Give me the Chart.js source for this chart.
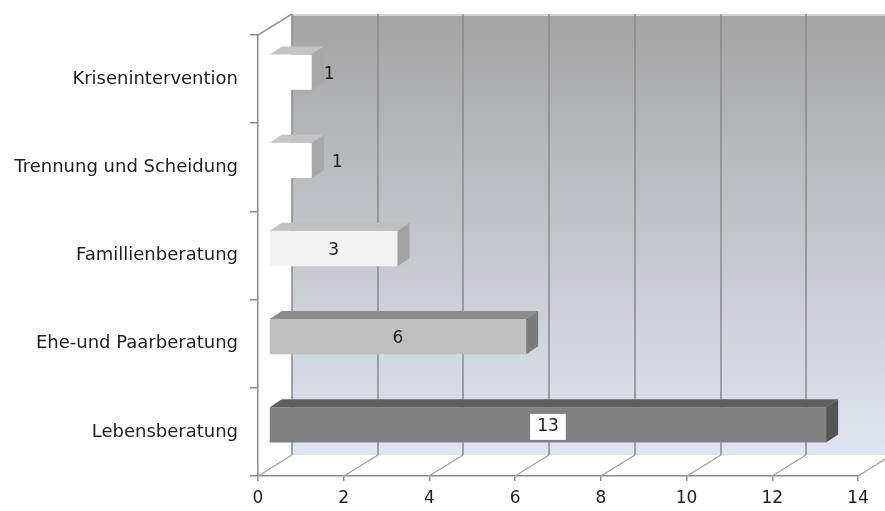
<!DOCTYPE html>
<html>
<head>
<meta charset="utf-8">
<script src="https://cdn.jsdelivr.net/npm/chart.js@4.4.1/dist/chart.umd.min.js"></script>
<style>
  html, body { margin: 0; padding: 0; background: #fff; }
  #chart { display: block; }
</style>
</head>
<body>
<canvas id="chart" width="885" height="511"></canvas>
<script>
// data
const categories = ['Krisenintervention', 'Trennung und Scheidung', 'Famillienberatung', 'Ehe-und Paarberatung', 'Lebensberatung'];
const counts = [1, 1, 3, 6, 13];
const xMin = 0, xMax = 14, xStep = 2;

// bar colours (front, top, side)
const frontColors = ['#ffffff', '#ffffff', '#f2f2f2', '#bfbfbf', '#808080'];
const topColors = ['#c4c4c4', '#c4c4c4', '#c0c0c0', '#8c8c8c', '#5f5f5f'];
const sideColors = ['#a8a8a8', '#a8a8a8', '#a3a3a3', '#7a7a7a', '#545454'];
const labelInside = [false, false, true, true, true];
const labelBox = [false, false, false, false, true];

// 3d offsets
const DEPTH = { x: 34, y: -21 };
const BAR_SHIFT = { x: 11, y: -7 };
const BAR_DEPTH = { x: 12, y: -8 };

const FONT = 'DejaVu Sans';
const TEXT = '#1e1e1e';

function line(ctx, x1, y1, x2, y2) {
  ctx.beginPath();
  ctx.moveTo(x1, y1);
  ctx.lineTo(x2, y2);
  ctx.stroke();
}

//Plugin that draws walls, floor and the 3d faces of the bars
const threeD = {
  id: 'threeD',
  beforeDatasetsDraw(chart) {
    const { ctx, chartArea: a } = chart;
    const xs = chart.scales.x;
    const wl = Math.round(xs.getPixelForValue(xMin)) + DEPTH.x;
    const top = a.top + DEPTH.y, bot = a.bottom + DEPTH.y;
    ctx.save();
    //back wall
    const g = ctx.createLinearGradient(0, top, 0, bot);
    g.addColorStop(0, '#a4a4a4');
    g.addColorStop(0.5, '#c3c5c9');
    g.addColorStop(1, '#dfe5f1');
    ctx.fillStyle = g;
    ctx.fillRect(wl, top, chart.width - wl, bot - top);
    //top edges
    ctx.strokeStyle = '#d4d4d4';
    ctx.lineWidth = 2;
    line(ctx, wl, top + 1, chart.width, top + 1);
    ctx.lineWidth = 1.5;
    ctx.strokeStyle = '#9a9a9a';
    line(ctx, a.left, a.top, wl, top);
    //grid lines on the wall
    ctx.strokeStyle = '#8a8a8a';
    xs.ticks.forEach(t => {
      const px = Math.round(xs.getPixelForValue(t.value)) + DEPTH.x;
      line(ctx, px, top, px, bot);
    });
    //floor diagonals
    ctx.strokeStyle = '#a0a0a0';
    ctx.lineWidth = 1.2;
    xs.ticks.forEach(t => {
      const px = Math.round(xs.getPixelForValue(t.value));
      line(ctx, px, a.bottom, px + DEPTH.x, bot);
    });
    ctx.restore();
    //bars sit in the middle of the depth
    ctx.save();
    ctx.translate(BAR_SHIFT.x, BAR_SHIFT.y);
  },
  afterDatasetsDraw(chart) {
    const ctx = chart.ctx;
    const meta = chart.getDatasetMeta(0);
    meta.data.forEach((el, i) => {
      const { x, y, base, height } = el.getProps(['x', 'y', 'base', 'height'], true);
      const t = y - height / 2, b = y + height / 2;
      //top face
      ctx.fillStyle = topColors[i];
      ctx.beginPath();
      ctx.moveTo(base, t);
      ctx.lineTo(x, t);
      ctx.lineTo(x + BAR_DEPTH.x, t + BAR_DEPTH.y);
      ctx.lineTo(base + BAR_DEPTH.x, t + BAR_DEPTH.y);
      ctx.closePath();
      ctx.fill();
      //side face
      ctx.fillStyle = sideColors[i];
      ctx.beginPath();
      ctx.moveTo(x, t);
      ctx.lineTo(x + BAR_DEPTH.x, t + BAR_DEPTH.y);
      ctx.lineTo(x + BAR_DEPTH.x, b + BAR_DEPTH.y);
      ctx.lineTo(x, b);
      ctx.closePath();
      ctx.fill();
    });
    ctx.restore();

    //value labels
    ctx.save();
    ctx.font = '17px "' + FONT + '"';
    ctx.textBaseline = 'middle';
    meta.data.forEach((el, i) => {
      const { x, y, base } = el.getProps(['x', 'y', 'base'], true);
      const cy = y + BAR_SHIFT.y + 2;
      const txt = String(counts[i]);
      if (labelInside[i]) {
        const cx = (x + base) / 2 + BAR_SHIFT.x;
        if (labelBox[i]) {
          const w = ctx.measureText(txt).width + 14;
          ctx.fillStyle = '#ffffff';
          ctx.fillRect(cx - w / 2, cy - 13, w, 26);
        }
        ctx.fillStyle = TEXT;
        ctx.textAlign = 'center';
        ctx.fillText(txt, cx, cy);
      } else {
        ctx.fillStyle = TEXT;
        ctx.textAlign = 'left';
        ctx.fillText(txt, x + BAR_SHIFT.x + BAR_DEPTH.x + i * 8, cy);
      }
    });
    ctx.restore();
  }
};

Chart.defaults.font.family = FONT;
Chart.defaults.color = TEXT;

new Chart(document.getElementById('chart'), {
  type: 'bar',
  plugins: [threeD],
  data: {
    labels: categories,
    datasets: [{
      data: counts,
      backgroundColor: frontColors,
      borderWidth: 0,
      categoryPercentage: 1,
      barPercentage: 0.4
    }]
  },
  options: {
    indexAxis: 'y',
    responsive: false,
    animation: false,
    layout: { padding: { top: 35, right: 27, left: 0, bottom: 0 } },
    plugins: {
      legend: { display: false },
      tooltip: { enabled: false }
    },
    scales: {
      y: {
        afterFit: (scale) => { scale.width = 258; },
        grid: { drawOnChartArea: false, offset: true, tickLength: 8, color: '#8c8c8c', lineWidth: 1.5 },
        border: { color: '#8c8c8c', width: 1.5 },
        ticks: { font: { size: 18 }, padding: 12, color: TEXT }
      },
      x: {
        min: xMin,
        max: xMax,
        afterFit: (scale) => { scale.height = 35; },
        grid: { drawOnChartArea: false, tickLength: 5, color: '#8c8c8c', lineWidth: 1.5 },
        border: { color: '#8c8c8c', width: 1.5 },
        ticks: { stepSize: xStep, font: { size: 17 }, padding: 7, color: TEXT }
      }
    }
  }
});
</script>
</body>
</html>
